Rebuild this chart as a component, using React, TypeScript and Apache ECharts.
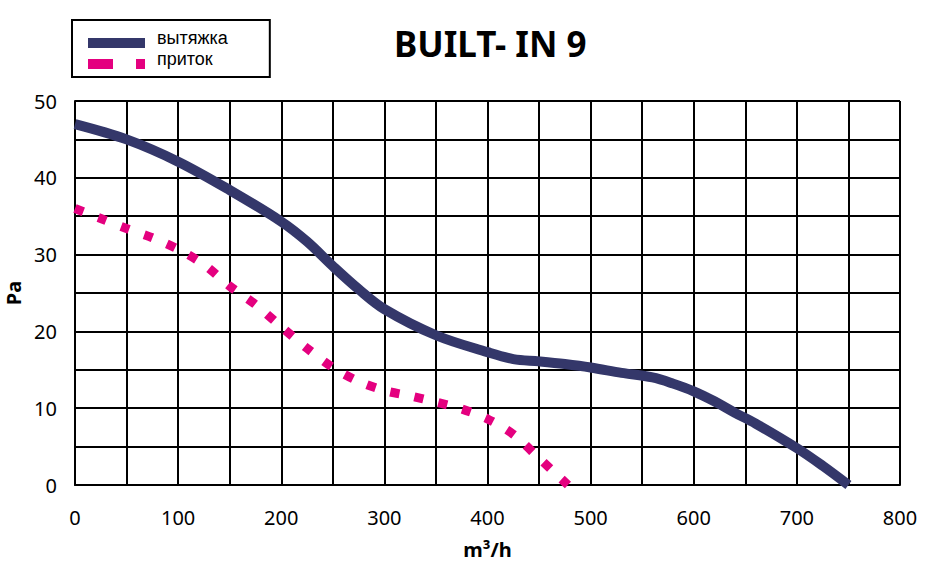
import React, { useEffect, useRef } from "react";
import * as echarts from "echarts";

const exhaustFlow = [0, 50, 100, 150, 200, 225, 250, 275, 300, 350, 400, 425, 450, 475, 500, 530, 560, 580, 600, 620, 640, 660, 700, 725, 750];
const exhaustPressure = [47.0, 45.0, 42.1, 38.4, 34.3, 31.7, 28.5, 25.5, 22.9, 19.5, 17.3, 16.4, 16.1, 15.75, 15.3, 14.6, 14.0, 13.2, 12.2, 10.9, 9.4, 8.0, 4.8, 2.5, 0];

const supplyFlow = [0, 25, 50, 75, 100, 125, 150, 175, 200, 225, 250, 275, 300, 325, 350, 375, 400, 425, 450, 478];
const supplyPressure = [36.0, 34.7, 33.4, 32.2, 30.7, 28.7, 25.9, 23.5, 20.6, 17.8, 15.3, 13.5, 12.3, 11.6, 10.8, 9.9, 8.6, 6.6, 3.5, 0];

const seriesNames = ["вытяжка", "приток"];
const titleText = "BUILT- IN 9";
const xName = "m³/h";
const yName = "Pa";

const NAVY = "#34376a";
const PINK = "#e4007f";

// legend icons: a tiny anchor at the top-left keeps the bar in the lower half of the icon box
const ICON_SOLID = "path://M0,0h0.01v0.01h-0.01Z M0,10H57V20H0Z";
const ICON_DASHED = "path://M0,0h0.01v0.01h-0.01Z M0,10H25V20H0Z M48,10H57V20H48Z";

export default function App() {
  const ref = useRef<HTMLDivElement>(null);
  useEffect(() => {
    document.body.style.margin = "0";
    const chart = echarts.init(ref.current!, null, { renderer: "svg" });
    const exhaust = exhaustFlow.map((x, i) => [x, exhaustPressure[i]]);
    const supply = supplyFlow.map((x, i) => [x, supplyPressure[i]]);
    const labelFont = { fontFamily: "Noto Sans", fontSize: 20, color: "#000" };
    chart.setOption({
      animation: false,
      backgroundColor: "#fff",
      title: {
        text: titleText,
        left: 389,
        top: 21,
        textStyle: { fontFamily: "Noto Sans", fontWeight: "bold", fontSize: 35, color: "#000" },
      },
      legend: {
        orient: "vertical",
        left: 72,
        top: 20,
        itemWidth: 57,
        itemHeight: 20,
        itemGap: 1,
        borderColor: "#000",
        borderWidth: 2,
        padding: [8, 42, 8, 16],
        textStyle: {
          fontFamily: "Liberation Sans",
          fontSize: 18,
          lineHeight: 18,
          color: "#000",
          padding: [0, 0, 0, 7],
        },
        data: [
          { name: seriesNames[0], icon: ICON_SOLID, itemStyle: { color: NAVY } },
          { name: seriesNames[1], icon: ICON_DASHED, itemStyle: { color: PINK } },
        ],
      },
      grid: { left: 75, right: 40, top: 101, bottom: 85, outerBoundsMode: "none", containLabel: false },
      xAxis: {
        type: "value",
        min: 0,
        max: 800,
        interval: 50,
        name: xName,
        nameLocation: "middle",
        nameGap: 54,
        nameTextStyle: { fontFamily: "Noto Sans", fontWeight: "bold", fontSize: 20, color: "#000" },
        axisLine: { show: true, lineStyle: { color: "#000", width: 2 } },
        axisTick: { show: false },
        axisLabel: {
          ...labelFont,
          margin: 22,
          formatter: (v: number) => (v % 100 === 0 ? String(v) : ""),
        },
        splitLine: { show: true, lineStyle: { color: "#000", width: 2 } },
      },
      yAxis: {
        type: "value",
        min: 0,
        max: 50,
        interval: 5,
        name: yName,
        nameLocation: "middle",
        nameGap: 50,
        nameTextStyle: { fontFamily: "Noto Sans", fontWeight: "bold", fontSize: 20, color: "#000" },
        axisLine: { show: true, lineStyle: { color: "#000", width: 2 } },
        axisTick: { show: false },
        axisLabel: {
          ...labelFont,
          margin: 18,
          formatter: (v: number) => (v % 10 === 0 ? String(v) : ""),
        },
        splitLine: { show: true, lineStyle: { color: "#000", width: 2 } },
      },
      series: [
        {
          name: seriesNames[0],
          type: "line",
          data: exhaust,
          smooth: 0.35,
          symbol: "none",
          lineStyle: { color: NAVY, width: 10, cap: "butt" },
          itemStyle: { color: NAVY },
        },
        {
          name: seriesNames[1],
          type: "line",
          data: supply,
          smooth: 0.3,
          symbol: "none",
          lineStyle: { color: PINK, width: 9, type: [9, 15.6], cap: "butt" },
          itemStyle: { color: PINK },
        },
      ],
    });
    return () => chart.dispose();
  }, []);
  return <div ref={ref} style={{ width: 940, height: 570 }} />;
}
